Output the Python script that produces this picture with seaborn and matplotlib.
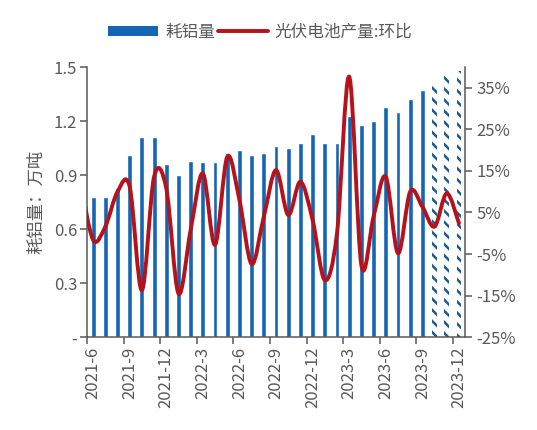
import numpy as np
import pandas as pd
import seaborn as sns
import matplotlib.pyplot as plt
from matplotlib.path import Path
from matplotlib.patches import PathPatch, Patch
from matplotlib.lines import Line2D
from matplotlib.ticker import FixedLocator, FuncFormatter

# 月份 (柱)
months = ["2021-6", "2021-7", "2021-8", "2021-9", "2021-10", "2021-11", "2021-12",
          "2022-1", "2022-2", "2022-3", "2022-4", "2022-5", "2022-6", "2022-7",
          "2022-8", "2022-9", "2022-10", "2022-11", "2022-12", "2023-1", "2023-2",
          "2023-3", "2023-4", "2023-5", "2023-6", "2023-7", "2023-8", "2023-9",
          "2023-10", "2023-11", "2023-12"]
# 耗铝量 (万吨), 最后三个月为预测
aluminum = [0.78, 0.78, 0.83, 1.01, 1.11, 1.11, 0.96, 0.90, 0.98, 0.97, 0.97,
            1.02, 1.04, 1.01, 1.02, 1.06, 1.05, 1.08, 1.13, 1.08, 1.08, 1.23,
            1.18, 1.20, 1.28, 1.25, 1.32, 1.37, 1.40, 1.46, 1.48]
n_forecast = 3
# 光伏电池产量:环比 (%), 从2021-5开始 (2021-5 被坐标轴截掉)
pv_months = ["2021-5"] + months
pv_mom = [12.0, -1.6, 1.6, 10.0, 11.2, -13.7, 13.6, 10.8, -14.5, 0.8, 14.4, -2.8,
          18.4, 8.0, -7.4, 4.0, 15.2, 4.4, 12.4, 3.2, -11.3, 0.0, 37.7, -7.7,
          4.0, 13.6, -4.8, 10.0, 6.4, 1.6, 9.6, 2.4]
label_months = months[::3]

BLUE = "#1466B2"
RED = "#B5121B"
GRAY = "#595959"


def smooth_path(xs, ys):
    # excel 风格平滑线 (catmull-rom -> bezier)
    pts = np.column_stack([xs, ys]).astype(float)
    n = len(pts)
    verts = [pts[0]]
    codes = [Path.MOVETO]
    for i in range(n - 1):
        p0 = pts[max(i - 1, 0)]
        p1 = pts[i]
        p2 = pts[i + 1]
        p3 = pts[min(i + 2, n - 1)]
        verts += [p1 + (p2 - p0) / 6, p2 - (p3 - p1) / 6, p2]
        codes += [Path.CURVE4] * 3
    return Path(verts, codes)


sns.set_theme(style="ticks")
plt.rcParams["font.family"] = ["Noto Sans CJK SC", "DejaVu Sans"]
plt.rcParams["hatch.linewidth"] = 1.8
plt.rcParams["axes.unicode_minus"] = False

df = pd.DataFrame({"month": months, "aluminum": aluminum})

fig = plt.figure(figsize=(5.37, 4.30), dpi=100)
ax = fig.add_axes([0.162, 0.216, 0.704, 0.628])

sns.barplot(data=df, x="month", y="aluminum", color=BLUE, width=0.4,
            saturation=1, ax=ax)
for p in ax.patches[-n_forecast:]:
    p.set_facecolor("white")
    p.set_edgecolor("#1D5A8C")
    p.set_linewidth(0)
    p.set_hatch("\\\\\\")

ax.set_xlim(-0.5, len(months) - 0.5)
ax.set_ylim(0, 1.5)
ax.set_yticks(np.arange(0, 1.51, 0.3))
ax.yaxis.set_major_formatter(FuncFormatter(lambda v, _: "-" if abs(v) < 1e-9 else f"{v:.1f}"))
ax.set_xlabel("")
ax.set_ylabel("耗铝量：万吨", fontsize=12.5, color=GRAY, labelpad=6)

# 标签在柱中心, 刻度线在类别边界
label_pos = [months.index(m) for m in label_months]
ax.xaxis.set_major_locator(FixedLocator(label_pos))
ax.set_xticklabels(label_months, rotation=90)
ax.xaxis.set_minor_locator(FixedLocator([p - 0.5 for p in label_pos]))
ax.tick_params(axis="x", which="major", length=0, pad=7, labelsize=12, labelcolor=GRAY)
ax.tick_params(axis="x", which="minor", length=5, width=1.1, color=GRAY)
ax.tick_params(axis="y", length=5, width=1.1, color=GRAY, pad=2, labelsize=12, labelcolor=GRAY)

for s in ["left", "bottom"]:
    ax.spines[s].set_color(GRAY)
    ax.spines[s].set_linewidth(1.1)
ax.spines["top"].set_visible(False)
ax.spines["right"].set_visible(False)

ax2 = ax.twinx()
ax2.set_ylim(-25, 40)
ax2.set_yticks(np.arange(-25, 36, 10))
ax2.yaxis.set_major_formatter(FuncFormatter(lambda v, _: f"{v:.0f}%"))
ax2.tick_params(axis="y", length=5, width=1.1, color=GRAY, pad=3, labelsize=12, labelcolor=GRAY)
ax2.spines["right"].set_color(GRAY)
ax2.spines["right"].set_linewidth(1.1)
for s in ["top", "left", "bottom"]:
    ax2.spines[s].set_visible(False)

line_x = [months.index(pv_months[1]) - 1] + [months.index(m) for m in pv_months[1:]]
ax2.add_patch(PathPatch(smooth_path(line_x, pv_mom), fill=False, edgecolor=RED,
                        lw=2.8, capstyle="round", joinstyle="round"))

handles = [Patch(facecolor=BLUE, edgecolor="none"),
           Line2D([], [], color=RED, lw=2.8)]
fig.legend(handles, ["耗铝量", "光伏电池产量:环比"], loc="center",
           bbox_to_anchor=(0.485, 0.925), ncol=2, frameon=False, fontsize=12,
           handlelength=3.0, handleheight=0.6, handletextpad=0.4,
           columnspacing=0.2, labelcolor=GRAY)

fig.savefig("out.png", dpi=100)
